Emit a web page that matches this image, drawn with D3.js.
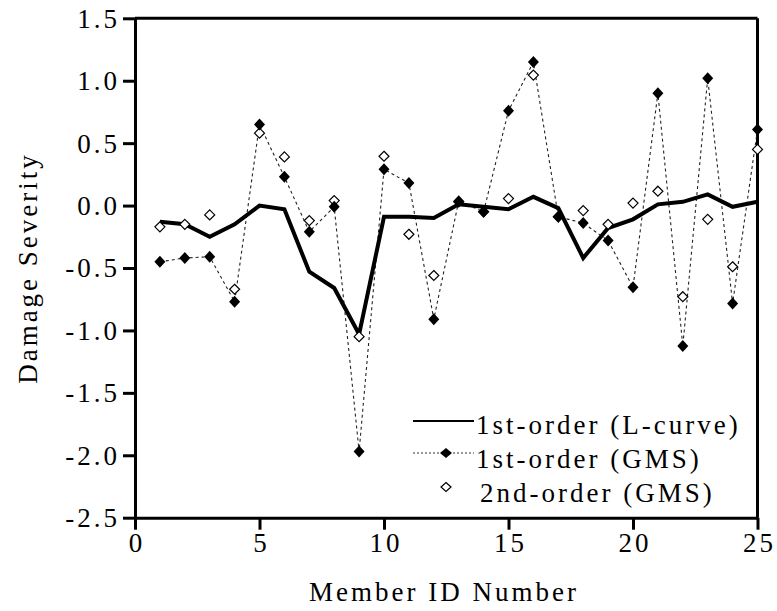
<!DOCTYPE html>
<html>
<head>
<meta charset="utf-8">
<script src="https://cdn.jsdelivr.net/npm/d3@7"></script>
<style>
  body { margin: 0; background: #fff; }
  text { font-family: "Liberation Serif", "Times New Roman", serif; font-size: 27px; letter-spacing: 3px; fill: #000; }
</style>
</head>
<body>
<div id="chart"></div>
<script>
// member ids 1..25
var members = d3.range(1, 26);

// 1st-order, L-curve regularisation (thick solid line)
var lcurve = [-0.13, -0.15, -0.25, -0.15, 0.0, -0.03, -0.53, -0.66, -1.03, -0.09,
              -0.09, -0.10, 0.01, -0.01, -0.03, 0.07, -0.02, -0.42, -0.18, -0.11,
              0.01, 0.03, 0.09, -0.01, 0.03];

// 1st-order, GMS (filled diamonds, dashed line)
var gms1 = [-0.45, -0.42, -0.41, -0.77, 0.65, 0.23, -0.21, -0.01, -1.97, 0.29,
            0.18, -0.91, 0.035, -0.05, 0.76, 1.15, -0.09, -0.14, -0.28, -0.655,
            0.90, -1.125, 1.02, -0.785, 0.61];

// 2nd-order, GMS (open diamonds only)
var gms2 = [-0.17, -0.15, -0.075, -0.67, 0.58, 0.39, -0.12, 0.04, -1.05, 0.395,
            -0.23, -0.56, 0.03, -0.05, 0.056, 1.045, -0.09, -0.04, -0.15, 0.02,
            0.115, -0.73, -0.11, -0.49, 0.45];

var xTicks = [0, 5, 10, 15, 20, 25];
var yTicks = [-2.5, -2.0, -1.5, -1.0, -0.5, 0.0, 0.5, 1.0, 1.5];

var legendLabels = ["1st-order (L-curve)", "1st-order (GMS)", "2nd-order (GMS)"];

var W = 777, H = 611;
var svg = d3.select("#chart").append("svg")
  .attr("width", W)
  .attr("height", H);

var x = d3.scaleLinear().domain([0, 25]).range([135, 757.5]);
var y = d3.scaleLinear().domain([-2.5, 1.5]).range([517.7, 18.3]);

// diamond shapes (relative to the point)
function diamond(hw, hh) {
  return "M0," + (-hh) + "L" + hw + ",0L0," + hh + "L" + (-hw) + ",0Z";
}

// box top + right
svg.append("line")
  .attr("x1", x(0)).attr("x2", x(25))
  .attr("y1", y(1.5)).attr("y2", y(1.5))
  .attr("stroke", "#000").attr("stroke-width", 3);
svg.append("line")
  .attr("x1", x(25)).attr("x2", x(25))
  .attr("y1", y(1.5)).attr("y2", y(-2.5))
  .attr("stroke", "#000").attr("stroke-width", 3);

// axes
var yAxis = svg.append("g")
  .attr("transform", "translate(" + x(0) + ",0)")
  .call(d3.axisLeft(y).tickValues(yTicks).tickSize(12).tickSizeOuter(0).tickPadding(5)
    .tickFormat(function (d) { return d.toFixed(1); }));

var xAxis = svg.append("g")
  .attr("transform", "translate(0," + y(-2.5) + ")")
  .call(d3.axisBottom(x).tickValues(xTicks).tickSize(12).tickSizeOuter(0).tickPadding(3)
    .tickFormat(function (d) { return d; }));

svg.selectAll(".domain").attr("stroke-width", 3);
svg.selectAll(".tick line").attr("stroke-width", 3);
svg.selectAll(".tick text")
  .attr("font-family", null).attr("font-size", null)
  .style("font-size", "27px");
yAxis.selectAll(".tick text").attr("dy", "0.33em").attr("x", -15);
xAxis.selectAll(".tick text").attr("dy", "0.71em").attr("dx", "1.5px");

// axis titles
svg.append("text")
  .attr("x", 444).attr("y", 601)
  .attr("text-anchor", "middle")
  .text("Member ID Number");

svg.append("text")
  .attr("transform", "translate(37,268) rotate(-90)")
  .attr("text-anchor", "middle")
  .text("Damage Severity");

// dashed line for 1st-order GMS
var line = d3.line()
  .x(function (d, i) { return x(members[i]); })
  .y(function (d) { return y(d); });

svg.append("path")
  .datum(gms1)
  .attr("d", line)
  .attr("fill", "none")
  .attr("stroke", "#222")
  .attr("stroke-width", 1.1)
  .attr("stroke-dasharray", "3,3");

// solid L-curve line
svg.append("path")
  .datum(lcurve)
  .attr("d", line)
  .attr("fill", "none")
  .attr("stroke", "#000")
  .attr("stroke-width", 4)
  .attr("stroke-linejoin", "miter");

// open diamonds (2nd order)
svg.selectAll(".open")
  .data(gms2)
  .enter()
  .append("path")
  .attr("class", "open")
  .attr("d", diamond(5, 5))
  .attr("transform", function (d, i) { return "translate(" + x(members[i]) + "," + y(d) + ")"; })
  .attr("fill", "#fff")
  .attr("stroke", "#000")
  .attr("stroke-width", 1.2);

// filled diamonds (1st order)
svg.selectAll(".filled")
  .data(gms1)
  .enter()
  .append("path")
  .attr("class", "filled")
  .attr("d", diamond(5.5, 6))
  .attr("transform", function (d, i) { return "translate(" + x(members[i]) + "," + y(d) + ")"; })
  .attr("fill", "#000");

// legend
var legend = svg.append("g").attr("transform", "translate(413,0)");
var rowY = [434, 468, 502];
var markY = [421, 453, 487];

legend.append("line")
  .attr("x1", 0).attr("x2", 61)
  .attr("y1", markY[0]).attr("y2", markY[0])
  .attr("stroke", "#000").attr("stroke-width", 2.2);

legend.append("line")
  .attr("x1", 0).attr("x2", 61)
  .attr("y1", markY[1]).attr("y2", markY[1])
  .attr("stroke", "#333").attr("stroke-width", 1)
  .attr("stroke-dasharray", "2,2");
legend.append("path")
  .attr("d", diamond(6, 5))
  .attr("transform", "translate(33," + markY[1] + ")")
  .attr("fill", "#000");

legend.append("path")
  .attr("d", diamond(5, 4.5))
  .attr("transform", "translate(33," + markY[2] + ")")
  .attr("fill", "#fff")
  .attr("stroke", "#000")
  .attr("stroke-width", 1.2);

legend.selectAll(".lab")
  .data(legendLabels)
  .enter()
  .append("text")
  .attr("class", "lab")
  .attr("x", function (d, i) { return i == 2 ? 67 : 63; })
  .attr("y", function (d, i) { return rowY[i]; })
  .text(function (d) { return d; });
</script>
</body>
</html>
